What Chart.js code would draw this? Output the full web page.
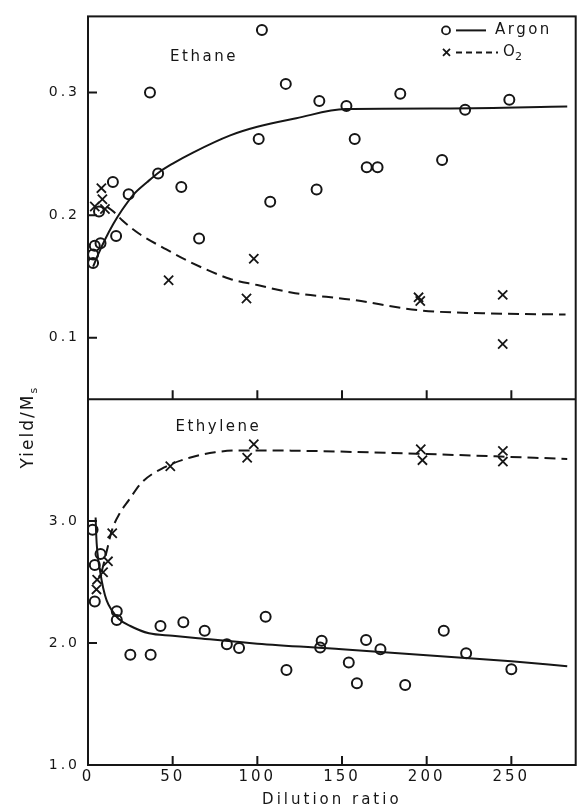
<!DOCTYPE html>
<html>
<head>
<meta charset="utf-8">
<script src="https://cdn.jsdelivr.net/npm/chart.js@4/dist/chart.umd.min.js"></script>
<style>
  html, body { margin: 0; padding: 0; background: #fff; }
</style>
</head>
<body>
<canvas id="yield_chart" width="584" height="809"></canvas>
<script>
// axis ticks
const xTicks = [0, 50, 100, 150, 200, 250];
const ethaneTicks = [0.1, 0.2, 0.3];
const ethyleneTicks = [1.0, 2.0, 3.0];

// Ethane, argon diluent (circles)
const ethaneArgonX = [3, 3, 4, 7.4, 6.5, 14.7, 16.6, 24, 36.6, 41.4, 55.1, 65.6, 100.8, 102.7, 107.6, 116.8, 135, 136.6, 152.6, 157.5, 164.6, 171, 184.4, 209.1, 222.7, 248.8];
const ethaneArgonY = [0.161, 0.168, 0.175, 0.177, 0.203, 0.227, 0.183, 0.217, 0.300, 0.234, 0.223, 0.181, 0.262, 0.351, 0.211, 0.307, 0.221, 0.293, 0.289, 0.262, 0.239, 0.239, 0.299, 0.245, 0.286, 0.294];
// Ethane, O2 diluent (crosses)
const ethaneO2X = [4, 7.9, 8.5, 10, 47.6, 93.6, 97.9, 195.2, 196.2, 244.9, 244.9];
const ethaneO2Y = [0.207, 0.222, 0.213, 0.205, 0.147, 0.132, 0.1645, 0.133, 0.130, 0.135, 0.095];
// Ethane curves
const ethaneArgonFitX = [3, 6, 10, 15, 20, 27, 35, 42, 50, 62, 84, 100, 123, 152, 214, 283];
const ethaneArgonFitY = [0.158, 0.168, 0.180, 0.193, 0.204, 0.217, 0.227, 0.235, 0.242, 0.251, 0.265, 0.272, 0.279, 0.2865, 0.287, 0.2885];
const ethaneO2FitX = [11, 15, 20, 30, 45, 60, 84, 100, 120, 156, 195, 233, 282];
const ethaneO2FitY = [0.207, 0.203, 0.196, 0.185, 0.173, 0.162, 0.148, 0.143, 0.137, 0.131, 0.1225, 0.120, 0.119];

// Ethylene, argon diluent
const ethyleneArgonX = [2.7, 4, 7.4, 4, 17, 17, 25, 37, 42.8, 56.3, 68.9, 82, 89.2, 104.9, 117.2, 138, 137.1, 154, 158.8, 164.2, 172.7, 187.3, 210.1, 223.3, 250];
const ethyleneArgonY = [2.93, 2.64, 2.73, 2.34, 2.26, 2.19, 1.905, 1.905, 2.14, 2.17, 2.10, 1.99, 1.96, 2.215, 1.78, 2.018, 1.963, 1.84, 1.67, 2.026, 1.95, 1.656, 2.10, 1.916, 1.785];
// Ethylene, O2 diluent
const ethyleneO2X = [5, 5.4, 8.9, 11.8, 14.3, 48.6, 94, 97.9, 196.5, 197.5, 245, 245];
const ethyleneO2Y = [2.44, 2.52, 2.58, 2.67, 2.90, 3.45, 3.52, 3.63, 3.59, 3.50, 3.576, 3.488];
// Ethylene curves
const ethyleneArgonFitX = [4.5, 4.8, 5.5, 7, 9, 11, 14, 18, 25, 36, 50, 65, 100, 150, 200, 250, 283];
const ethyleneArgonFitY = [3.03, 2.9, 2.75, 2.6, 2.45, 2.35, 2.27, 2.2, 2.14, 2.08, 2.06, 2.04, 1.995, 1.95, 1.9, 1.85, 1.81];
const ethyleneO2FitX = [8, 11, 14, 19, 24, 32, 45, 60, 75, 90, 120, 200, 283];
const ethyleneO2FitY = [2.58, 2.75, 2.92, 3.07, 3.17, 3.32, 3.44, 3.52, 3.565, 3.58, 3.578, 3.55, 3.51];

const ink = '#161616';
const fontFamily = '"DejaVu Sans", sans-serif';

function pts(xs, ys) {
    return xs.map((x, i) => ({ x: x, y: ys[i] }));
}

function marks(xs, ys, axis, style) {
    const cross = style === 'crossRot';
    return {
        data: pts(xs, ys),
        yAxisID: axis,
        showLine: false,
        pointStyle: style,
        pointRadius: cross ? 6.5 : 5,
        pointBorderWidth: cross ? 1.8 : 2,
        pointBorderColor: ink,
        pointBackgroundColor: 'rgba(0,0,0,0)',
    };
}

function curve(xs, ys, axis, dash) {
    return {
        data: pts(xs, ys),
        yAxisID: axis,
        showLine: true,
        pointRadius: 0,
        borderColor: ink,
        borderWidth: 2,
        borderDash: dash,
        cubicInterpolationMode: 'monotone',
        tension: 0.4,
    };
}

// frame, inner ticks, panel names, legend and y title
const paperLook = {
    id: 'paperLook',
    beforeDraw(chart) {
        chart.ctx.letterSpacing = '3px';
    },
    afterDraw(chart) {
        const { ctx, chartArea: a, scales } = chart;
        const sx = scales.x, top = scales.yTop, bot = scales.yBot;
        const split = top.bottom;
        ctx.save();
        ctx.strokeStyle = ink;
        ctx.fillStyle = ink;
        ctx.lineWidth = 2;
        ctx.setLineDash([]);
        ctx.strokeRect(a.left, a.top, a.right - a.left, a.bottom - a.top);
        ctx.beginPath();
        ctx.moveTo(a.left, split);
        ctx.lineTo(a.right, split);
        xTicks.forEach(v => {
            if (v === 0) return;
            const px = sx.getPixelForValue(v);
            ctx.moveTo(px, a.bottom);
            ctx.lineTo(px, a.bottom - 9);
            ctx.moveTo(px, split);
            ctx.lineTo(px, split - 9);
        });
        ethaneTicks.forEach(v => {
            const py = top.getPixelForValue(v);
            ctx.moveTo(a.left, py);
            ctx.lineTo(a.left + 9, py);
        });
        ethyleneTicks.forEach(v => {
            const py = bot.getPixelForValue(v);
            ctx.moveTo(a.left, py);
            ctx.lineTo(a.left + 9, py);
        });
        ctx.stroke();

        // panel names
        ctx.letterSpacing = '2.5px';
        ctx.font = '15px ' + fontFamily;
        ctx.textAlign = 'center';
        ctx.textBaseline = 'middle';
        ctx.fillText('Ethane', sx.getPixelForValue(68.5), top.getPixelForValue(0.3285));
        ctx.fillText('Ethylene', sx.getPixelForValue(77), bot.getPixelForValue(3.77));

        // legend
        const rowA = a.top + 14, rowB = a.top + 36;
        ctx.lineWidth = 1.8;
        ctx.beginPath();
        ctx.arc(446, rowA, 4, 0, Math.PI * 2);
        ctx.stroke();
        ctx.beginPath();
        ctx.moveTo(443, rowB - 3.5); ctx.lineTo(450, rowB + 3.5);
        ctx.moveTo(450, rowB - 3.5); ctx.lineTo(443, rowB + 3.5);
        ctx.stroke();
        ctx.lineWidth = 2;
        ctx.beginPath();
        ctx.moveTo(456, rowA); ctx.lineTo(486, rowA);
        ctx.stroke();
        ctx.setLineDash([6, 4]);
        ctx.beginPath();
        ctx.moveTo(456, rowB); ctx.lineTo(498, rowB);
        ctx.stroke();
        ctx.setLineDash([]);
        ctx.textAlign = 'left';
        ctx.fillText('Argon', 495, rowA);
        ctx.letterSpacing = '0px';
        ctx.fillText('O', 503, rowB);
        ctx.font = '11px ' + fontFamily;
        ctx.fillText('2', 515, rowB + 5);

        // y title
        ctx.translate(29, 427);
        ctx.rotate(-Math.PI / 2);
        ctx.letterSpacing = '2px';
        ctx.font = '17px ' + fontFamily;
        const main = 'Yield/M';
        const w = ctx.measureText(main).width + 8;
        ctx.textAlign = 'left';
        ctx.fillText(main, -w / 2, 0);
        ctx.font = '11px ' + fontFamily;
        ctx.fillText('s', -w / 2 + w - 8, 5);
        ctx.restore();
    }
};

const canvas = document.getElementById('yield_chart');
const yieldChart = new Chart(canvas, {
    type: 'scatter',
    data: {
        datasets: [
            marks(ethaneArgonX, ethaneArgonY, 'yTop', 'circle'),
            marks(ethaneO2X, ethaneO2Y, 'yTop', 'crossRot'),
            curve(ethaneArgonFitX, ethaneArgonFitY, 'yTop', []),
            curve(ethaneO2FitX, ethaneO2FitY, 'yTop', [11, 6]),
            marks(ethyleneArgonX, ethyleneArgonY, 'yBot', 'circle'),
            marks(ethyleneO2X, ethyleneO2Y, 'yBot', 'crossRot'),
            curve(ethyleneArgonFitX, ethyleneArgonFitY, 'yBot', []),
            curve(ethyleneO2FitX, ethyleneO2FitY, 'yBot', [11, 6]),
        ]
    },
    options: {
        responsive: false,
        animation: false,
        layout: {
            padding: { top: 14, right: 1, left: 0, bottom: 0 }
        },
        plugins: {
            legend: { display: false },
            tooltip: { enabled: false }
        },
        scales: {
            x: {
                type: 'linear',
                min: 0,
                max: 288,
                afterBuildTicks: s => { s.ticks = xTicks.map(v => ({ value: v })); },
                afterFit: s => { s.height = 44; },
                grid: { display: false, drawTicks: false },
                border: { display: false },
                ticks: { padding: 3, color: ink, maxRotation: 0, font: { family: fontFamily, size: 15 } },
                title: {
                    display: true,
                    text: 'Dilution ratio',
                    color: ink,
                    padding: { top: 0, bottom: 0 },
                    font: { family: fontFamily, size: 15 }
                }
            },
            yTop: {
                type: 'linear',
                position: 'left',
                stack: 'yield',
                stackWeight: 384,
                weight: 2,
                min: 0.05,
                max: 0.362,
                afterBuildTicks: s => { s.ticks = ethaneTicks.map(v => ({ value: v })); },
                afterFit: s => { s.width = 88; },
                grid: { display: false, drawTicks: false },
                border: { display: false },
                ticks: { padding: 8, color: ink, font: { family: fontFamily, size: 14 }, callback: v => v.toFixed(1) }
            },
            yBot: {
                type: 'linear',
                position: 'left',
                stack: 'yield',
                stackWeight: 367,
                weight: 1,
                min: 1.0,
                max: 4.0,
                afterBuildTicks: s => { s.ticks = ethyleneTicks.map(v => ({ value: v })); },
                afterFit: s => { s.width = 88; },
                grid: { display: false, drawTicks: false },
                border: { display: false },
                ticks: { padding: 8, color: ink, font: { family: fontFamily, size: 14 }, callback: v => v.toFixed(1) }
            }
        }
    },
    plugins: [paperLook]
});
</script>
</body>
</html>
